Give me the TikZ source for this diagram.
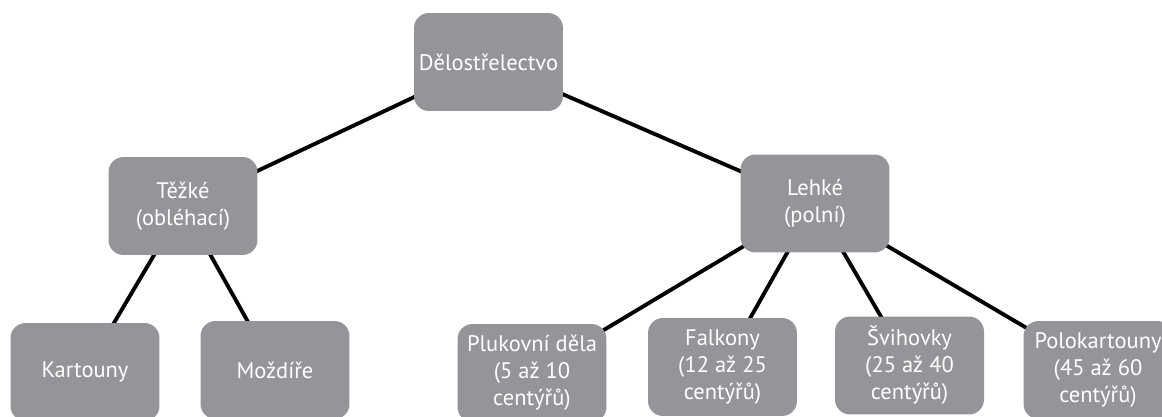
\documentclass[tikz,border=0pt]{standalone}
\usepackage{fontspec}
\setmainfont{PT Sans}
\usetikzlibrary{backgrounds}

\definecolor{boxGray}{HTML}{939598}

\begin{document}
\begin{tikzpicture}[x=0.02cm, y=-0.02cm,
  unit/.style={fill=boxGray, rounded corners=0.3cm, inner sep=0pt,
    minimum width=2.98cm, minimum height=1.96cm, align=center,
    text=white, font=\fontsize{12.8}{15.3}\selectfont},
  link/.style={line width=2.2pt}]

\useasboundingbox (0, 0) rectangle (1162, 416);
\clip (0, 0) rectangle (1162, 416);

% top
\node[unit] (root) at (488.5, 62) {Dělostřelectvo};

% second level
\node[unit] (tezke) at (183, 206) {Těžké\\(obléhací)};
\node[unit] (lehke) at (815, 203.5) {Lehké\\(polní)};

% bottom level
\node[unit] (kartouny) at (85, 372) {Kartouny};
\node[unit] (mozdire) at (275, 370) {Moždíře};
\node[unit] (plukovni) at (532, 373) {Plukovní děla\\(5 až 10\\centýřů)};
\node[unit] (falkony) at (722.5, 367) {Falkony\\(12 až 25\\centýřů)};
\node[unit] (svihovky) at (909.5, 365.5) {Švihovky\\(25 až 40\\centýřů)};
\node[unit] (polokartouny) at (1098, 370) {Polokartouny\\(45 až 60\\centýřů)};

\begin{pgfonlayer}{background}
\draw[link] (root.center) -- (tezke.center);
\draw[link] (root.center) -- (lehke.center);
\draw[link] (tezke.center) -- (kartouny.center);
\draw[link] (tezke.center) -- (mozdire.center);
\draw[link] (lehke.center) -- (plukovni.center);
\draw[link] (lehke.center) -- (falkony.center);
\draw[link] (lehke.center) -- (svihovky.center);
\draw[link] (lehke.center) -- (polokartouny.center);
\end{pgfonlayer}

\end{tikzpicture}
\end{document}
